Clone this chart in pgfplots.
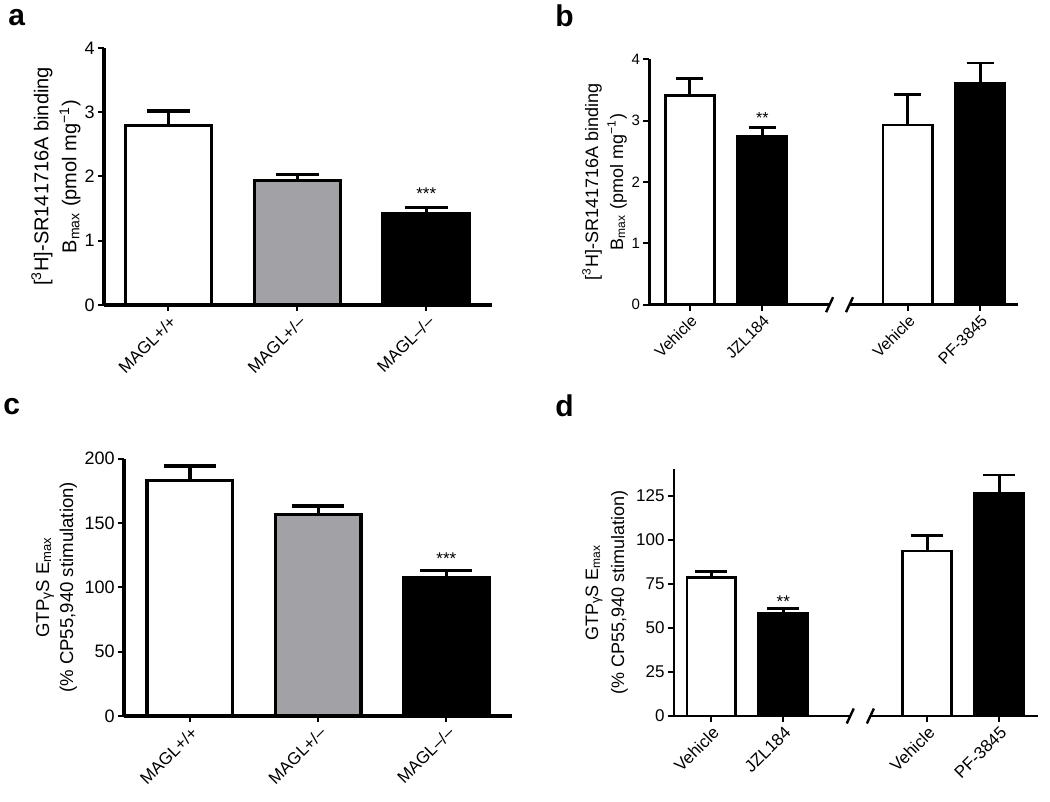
\documentclass[border=0pt]{standalone}
\usepackage{fontspec}
\setmainfont{Liberation Sans}
\usepackage{pgfplots}
\pgfplotsset{compat=1.18}
\definecolor{barg}{RGB}{161,161,166}
\pgfplotsset{
  panel/.style={
    scale only axis, ybar, ymin=0,
    axis x line=bottom, axis y line=left,
    axis line style={-, line width=#1, black},
    tick align=outside, major tick length=3pt,
    every tick/.style={black, line width=1pt},
    /pgf/number format/assume math mode=true,
    xticklabel style={rotate=45, anchor=north east, inner sep=1pt},
    yticklabel style={inner sep=1.5pt},
    ylabel style={align=center, anchor=center},
    clip=false,
    every axis plot/.append style={line width=#1, draw=black, bar shift=0pt,
      error bars/y dir=plus, error bars/y explicit,
      error bars/error bar style={line width=#1, black}},
  },
  cap/.style 2 args={every axis plot/.append style={error bars/error mark options={rotate=90, line width=#1, black, mark size=#2}}},
}
\begin{document}
\begin{tikzpicture}
\useasboundingbox (0,0) rectangle (525pt,401pt);
% panel letters
\node[anchor=base west, inner sep=0pt, font=\fontsize{15}{18}\selectfont\bfseries] at (4pt,388pt) {a};
\node[anchor=base west, inner sep=0pt, font=\fontsize{15}{18}\selectfont\bfseries] at (277.5pt,387.7pt) {b};
\node[anchor=base west, inner sep=0pt, font=\fontsize{15}{18}\selectfont\bfseries] at (1.5pt,193.5pt) {c};
\node[anchor=base west, inner sep=0pt, font=\fontsize{15}{18}\selectfont\bfseries] at (277.5pt,192.7pt) {d};

% ---------------- a
\begin{axis}[panel=1.6pt, cap={1.6pt}{10.75pt}, at={(52pt,248.5pt)}, anchor=south west,
  width=194pt, height=128.5pt, xmin=-0.5, xmax=2.51, ymax=4,
  bar width=0.67, xtick={0,1,2}, xticklabels={MAGL+/+,MAGL+/–,MAGL–/–},
  ytick={0,1,2,3,4},
  ticklabel style={font=\fontsize{8.5}{10}\selectfont},
  yticklabel style={font=\fontsize{9}{10}\selectfont},
  ylabel={[\textsuperscript{3}H]-SR141716A binding\\B\textsubscript{max} (pmol mg\textsuperscript{−1})},
  ylabel style={font=\fontsize{10}{14}\selectfont, at={(axis description cs:-0.124,0.5)}},
]
\addplot[fill=white] coordinates {(0,2.79) +- (0,0.23)};
\addplot[fill=barg] coordinates {(1,1.94) +- (0,0.09)};
\addplot[fill=black] coordinates {(2,1.43) +- (0,0.09)};
\node[anchor=base, font=\fontsize{8.5}{10}\selectfont] at (axis cs:2,1.64) {***};
\end{axis}

% ---------------- b
\begin{axis}[panel=1.4pt, cap={1.4pt}{6.8pt}, at={(324.65pt,248.65pt)}, anchor=south west,
  width=184.35pt, height=122.7pt, xmin=-0.556, xmax=4.52, ymax=4,
  bar width=0.675, xtick={0,1,3,4}, xticklabels={Vehicle,JZL184,Vehicle,PF-3845},
  ytick={0,1,2,3,4},
  x axis line style={draw=none},
  ticklabel style={font=\fontsize{8}{9}\selectfont},
  yticklabel style={font=\fontsize{7.5}{9}\selectfont},
  ylabel={[\textsuperscript{3}H]-SR141716A binding\\B\textsubscript{max} (pmol mg\textsuperscript{−1})},
  ylabel style={font=\fontsize{9}{12.5}\selectfont, at={(axis description cs:-0.1215,0.5)}},
]
\addplot[fill=white] coordinates {(0,3.41) +- (0,0.28) (3,2.93) +- (0,0.50)};
\addplot[fill=black] coordinates {(1,2.75) +- (0,0.14) (4,3.60) +- (0,0.34)};
\node[anchor=base, font=\fontsize{8}{9}\selectfont] at (axis cs:1,2.96) {**};
\draw[line width=1.4pt] (axis cs:-0.556,0) -- (axis cs:1.926,0);
\draw[line width=1.4pt] (axis cs:2.20,0) -- (axis cs:4.52,0);
\draw[line width=1.2pt] (axis cs:1.926,0) ++(-1.75pt,-3.75pt) -- ++(3.5pt,7.5pt);
\draw[line width=1.2pt] (axis cs:2.20,0) ++(-1.75pt,-3.75pt) -- ++(3.5pt,7.5pt);
\end{axis}

% ---------------- c
\begin{axis}[panel=1.6pt, cap={1.6pt}{13pt}, at={(62pt,43pt)}, anchor=south west,
  width=193.85pt, height=128.65pt, xmin=-0.514, xmax=2.51, ymax=200,
  bar width=0.67, xtick={0,1,2}, xticklabels={MAGL+/+,MAGL+/–,MAGL–/–},
  ytick={0,50,100,150,200},
  ticklabel style={font=\fontsize{8.5}{10}\selectfont},
  yticklabel style={font=\fontsize{9}{10}\selectfont},
  ylabel={GTP\raisebox{-0.2ex}{\fontsize{7}{8}\selectfont γ}S E\textsubscript{max}\\(\% CP55,940 stimulation)},
  ylabel style={font=\fontsize{9.3}{12}\selectfont, at={(axis description cs:-0.174,0.5)}},
]
\addplot[fill=white] coordinates {(0,183.2) +- (0,11.1)};
\addplot[fill=barg] coordinates {(1,156.7) +- (0,6.5)};
\addplot[fill=black] coordinates {(2,107.5) +- (0,5.4)};
\node[anchor=base, font=\fontsize{8.5}{10}\selectfont] at (axis cs:2,117.6) {***};
\end{axis}

% ---------------- d
\begin{axis}[panel=1.4pt, cap={1.4pt}{8pt}, at={(337pt,43pt)}, anchor=south west,
  width=182pt, height=123.35pt, xmin=-0.52, xmax=4.54, ymax=140,
  bar width=0.68, xtick={0,1,3,4}, xticklabels={Vehicle,JZL184,Vehicle,PF-3845},
  ytick={0,25,50,75,100,125},
  x axis line style={draw=none},
  ticklabel style={font=\fontsize{8.5}{10}\selectfont},
  yticklabel style={font=\fontsize{8.5}{10}\selectfont},
  ylabel={GTP\raisebox{-0.2ex}{\fontsize{6.5}{8}\selectfont γ}S E\textsubscript{max}\\(\% CP55,940 stimulation)},
  ylabel style={font=\fontsize{9}{13}\selectfont, at={(axis description cs:-0.185,0.5)}},
]
\addplot[fill=white] coordinates {(0,78.5) +- (0,3.4) (3,93.6) +- (0,9.0)};
\addplot[fill=black] coordinates {(1,58.3) +- (0,2.8) (4,126.1) +- (0,10.7)};
\node[anchor=base, font=\fontsize{8.5}{10}\selectfont] at (axis cs:1,61.6) {**};
\draw[line width=1.4pt] (axis cs:-0.52,0) -- (axis cs:1.93,0);
\draw[line width=1.4pt] (axis cs:2.21,0) -- (axis cs:4.54,0);
\draw[line width=1.2pt] (axis cs:1.93,0) ++(-1.75pt,-3.75pt) -- ++(3.5pt,7.5pt);
\draw[line width=1.2pt] (axis cs:2.21,0) ++(-1.75pt,-3.75pt) -- ++(3.5pt,7.5pt);
\end{axis}
\end{tikzpicture}
\end{document}
